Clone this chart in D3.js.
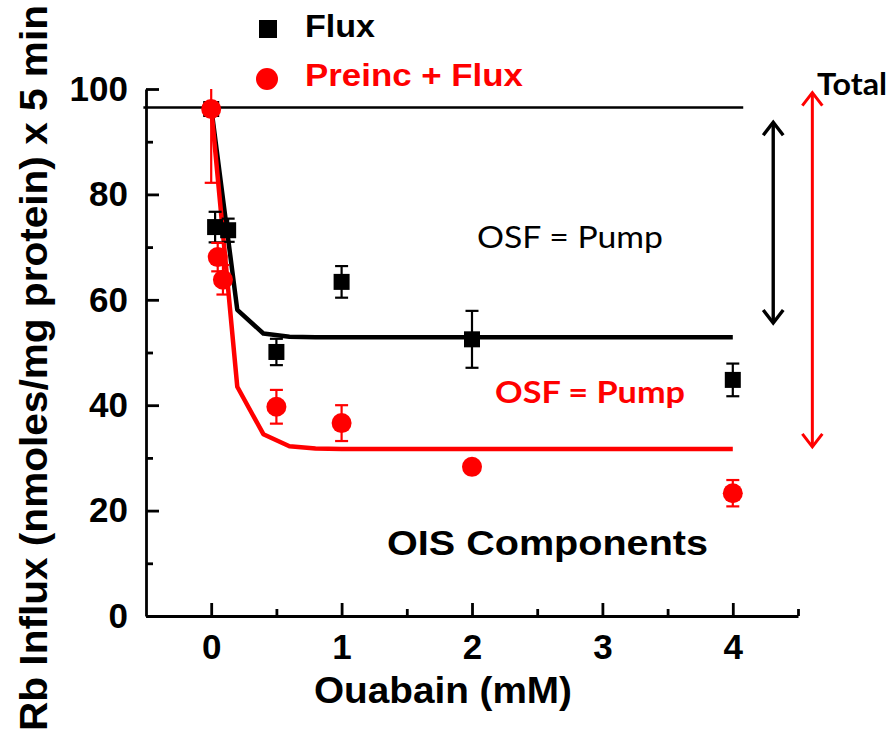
<!DOCTYPE html>
<html>
<head>
<meta charset="utf-8">
<script src="https://cdn.jsdelivr.net/npm/d3@7"></script>
<style>
    body { margin: 0; background: #fff; }
</style>
</head>
<body>
<div id="chart"></div>
<script>
// Flux (black squares)
const fluxX   = [0, 0.03, 0.13, 0.5, 1, 2, 4];
const fluxY   = [96.2, 73.8, 73.2, 50.1, 63.4, 52.5, 44.8];
const fluxErr = [1, 2.9, 2.2, 2.5, 3, 5.4, 3.1];

// Preinc + Flux (red circles)
const preX   = [0, 0.05, 0.09, 0.5, 1, 2, 4];
const preY   = [96.2, 68.1, 63.8, 39.7, 36.6, 28.3, 23.3];
const preErr = [14, 2.7, 2.8, 3.2, 3.4, 0.8, 2.5];

// fitted curves
const fitX    = [0, 0.2, 0.4, 0.6, 0.8, 1, 1.5, 2, 2.5, 3, 3.5, 4];
const fluxFit = [96.5, 58.1, 53.6, 53.0, 52.9, 52.9, 52.9, 52.9, 52.9, 52.9, 52.9, 52.9];
const preFit  = [96.5, 43.5, 34.5, 32.2, 31.8, 31.7, 31.7, 31.7, 31.7, 31.7, 31.7, 31.7];

const totalLevel = 96.5;
const xTicks = [0, 1, 2, 3, 4];
const xMinor = [0.5, 1.5, 2.5, 3.5, 4.5];
const yTicks = [0, 20, 40, 60, 80, 100];
const yMinor = [10, 30, 50, 70, 90];

const W = 895, H = 740;
const margin = {top: 89, right: 97, bottom: 124, left: 146};
const ARIAL = "'Liberation Sans', Arial, sans-serif";
const CALIBRI = "Lato, 'Open Sans', sans-serif";

const svg = d3.select("#chart").append("svg")
    .attr("width", W)
    .attr("height", H)
    .style("font-family", ARIAL);

const x = d3.scaleLinear().domain([-0.5, 4.5]).range([margin.left, W - margin.right]);
const y = d3.scaleLinear().domain([0, 100]).range([H - margin.bottom, margin.top]);

svg.append("defs").append("clipPath")
    .attr("id", "plotClip")
    .append("rect")
    .attr("x", margin.left)
    .attr("y", margin.top)
    .attr("width", W - margin.left - margin.right)
    .attr("height", H - margin.top - margin.bottom);

// axes
svg.append("g")
    .attr("transform", `translate(0, ${y(0)})`)
    .call(d3.axisBottom(x).tickValues(xTicks).tickFormat(d3.format("d"))
        .tickSizeInner(-13).tickSizeOuter(0).tickPadding(18));
svg.append("g")
    .attr("transform", `translate(0, ${y(0)})`)
    .call(d3.axisBottom(x).tickValues(xMinor).tickSizeInner(-7).tickSizeOuter(0).tickFormat(""))
    .select(".domain").remove();

svg.append("g")
    .attr("transform", `translate(${x(-0.5)}, 0)`)
    .call(d3.axisLeft(y).tickValues(yTicks).tickFormat(d3.format("d"))
        .tickSizeInner(-13).tickSizeOuter(0).tickPadding(18));
svg.append("g")
    .attr("transform", `translate(${x(-0.5)}, 0)`)
    .call(d3.axisLeft(y).tickValues(yMinor).tickSizeInner(-7).tickSizeOuter(0).tickFormat(""))
    .select(".domain").remove();

svg.selectAll(".domain, .tick line")
    .style("stroke", "#000")
    .style("stroke-width", 2.8);

svg.selectAll(".tick text")
    .style("font-family", ARIAL)
    .style("font-size", "35px")
    .style("font-weight", "bold")
    .attr("fill", "#000");

// axis titles
svg.append("text")
    .attr("x", 443)
    .attr("y", 703)
    .attr("text-anchor", "middle")
    .style("font-size", "36px")
    .style("font-weight", "bold")
    .attr("textLength", 258)
    .attr("lengthAdjust", "spacingAndGlyphs")
    .text("Ouabain (mM)");

svg.append("text")
    .attr("transform", "translate(47, 368) rotate(-90)")
    .attr("text-anchor", "middle")
    .style("font-size", "38px")
    .style("font-weight", "bold")
    .attr("textLength", 726)
    .attr("lengthAdjust", "spacingAndGlyphs")
    .text("Rb Influx (nmoles/mg protein) x 5 min");

// total line
svg.append("line")
    .attr("x1", x(-0.52))
    .attr("x2", x(4.08))
    .attr("y1", y(totalLevel))
    .attr("y2", y(totalLevel))
    .attr("stroke", "#000")
    .attr("stroke-width", 2.5);

// fitted curves
const line = d3.line()
    .x(d => x(d[0]))
    .y(d => y(d[1]));

svg.append("path")
    .datum(fitX.map((d, i) => [d, fluxFit[i]]))
    .attr("d", line)
    .attr("fill", "none")
    .attr("stroke", "#000")
    .attr("stroke-width", 4.5)
    .attr("stroke-linejoin", "round");

svg.append("path")
    .datum(fitX.map((d, i) => [d, preFit[i]]))
    .attr("d", line)
    .attr("fill", "none")
    .attr("stroke", "#ff0000")
    .attr("stroke-width", 4.5)
    .attr("stroke-linejoin", "round");

// error bars + markers
function drawSeries(xs, ys, errs, color, shape) {
    const pts = xs.map((d, i) => ({x: d, y: ys[i], e: errs[i]}));
    const g = svg.append("g");
    const eb = g.append("g").attr("clip-path", "url(#plotClip)");
    eb.selectAll("line.bar")
        .data(pts)
        .enter().append("line")
        .attr("x1", d => x(d.x)).attr("x2", d => x(d.x))
        .attr("y1", d => y(d.y + d.e)).attr("y2", d => y(d.y - d.e))
        .attr("stroke", color).attr("stroke-width", 2.2);
    [1, -1].forEach(s => {
        eb.selectAll("line.cap" + s)
            .data(pts)
            .enter().append("line")
            .attr("x1", d => x(d.x) - 6.5).attr("x2", d => x(d.x) + 6.5)
            .attr("y1", d => y(d.y + s * d.e)).attr("y2", d => y(d.y + s * d.e))
            .attr("stroke", color).attr("stroke-width", 2.2);
    });
    if (shape === "square") {
        g.selectAll("rect")
            .data(pts)
            .enter().append("rect")
            .attr("x", d => x(d.x) - 8)
            .attr("y", d => y(d.y) - 8)
            .attr("width", 16)
            .attr("height", 16)
            .attr("fill", color);
    } else {
        g.selectAll("circle")
            .data(pts)
            .enter().append("circle")
            .attr("cx", d => x(d.x))
            .attr("cy", d => y(d.y))
            .attr("r", 10)
            .attr("fill", color);
    }
}

drawSeries(fluxX, fluxY, fluxErr, "#000", "square");
drawSeries(preX, preY, preErr, "#ff0000", "circle");

// legend
svg.append("rect")
    .attr("x", 259).attr("y", 20)
    .attr("width", 18).attr("height", 18)
    .attr("fill", "#000");
svg.append("text")
    .attr("x", 305).attr("y", 37)
    .style("font-size", "32px").style("font-weight", "bold")
    .attr("textLength", 70).attr("lengthAdjust", "spacingAndGlyphs")
    .text("Flux");
svg.append("circle")
    .attr("cx", 267).attr("cy", 79).attr("r", 11)
    .attr("fill", "#ff0000");
svg.append("text")
    .attr("x", 305).attr("y", 86)
    .style("font-size", "32px").style("font-weight", "bold")
    .attr("fill", "#ff0000")
    .attr("textLength", 218).attr("lengthAdjust", "spacingAndGlyphs")
    .text("Preinc + Flux");

// annotations
svg.append("text")
    .attr("x", 477).attr("y", 248)
    .style("font-family", CALIBRI)
    .style("font-size", "30px")
    .attr("textLength", 186).attr("lengthAdjust", "spacingAndGlyphs")
    .text("OSF = Pump");

svg.append("text")
    .attr("x", 495).attr("y", 403)
    .style("font-family", CALIBRI)
    .style("font-size", "30px")
    .style("font-weight", "bold")
    .attr("fill", "#ff0000")
    .attr("textLength", 190).attr("lengthAdjust", "spacingAndGlyphs")
    .text("OSF = Pump");

svg.append("text")
    .attr("x", 387).attr("y", 555)
    .style("font-size", "35px").style("font-weight", "bold")
    .attr("textLength", 321).attr("lengthAdjust", "spacingAndGlyphs")
    .text("OIS Components");

svg.append("text")
    .attr("x", 817).attr("y", 95)
    .style("font-family", CALIBRI)
    .style("font-size", "31px")
    .style("font-weight", "bold")
    .attr("textLength", 70).attr("lengthAdjust", "spacingAndGlyphs")
    .text("Total");

// double arrows (data units)
const arrows = [
    {x: 4.31, top: 93.7, bottom: 55.6, color: "#000", width: 3.4},
    {x: 4.61, top: 99.3, bottom: 32.1, color: "#ff0000", width: 3}
];
arrows.forEach(a => {
    const ax = x(a.x), y1 = y(a.top), y2 = y(a.bottom);
    svg.append("line")
        .attr("x1", ax).attr("x2", ax)
        .attr("y1", y1).attr("y2", y2)
        .attr("stroke", a.color).attr("stroke-width", a.width);
    svg.append("path")
        .attr("d", `M${ax - 10},${y1 + 13}L${ax},${y1}L${ax + 10},${y1 + 13}M${ax - 10},${y2 - 13}L${ax},${y2}L${ax + 10},${y2 - 13}`)
        .attr("fill", "none")
        .attr("stroke", a.color)
        .attr("stroke-width", a.width)
        .attr("stroke-linejoin", "miter");
});
</script>
</body>
</html>
